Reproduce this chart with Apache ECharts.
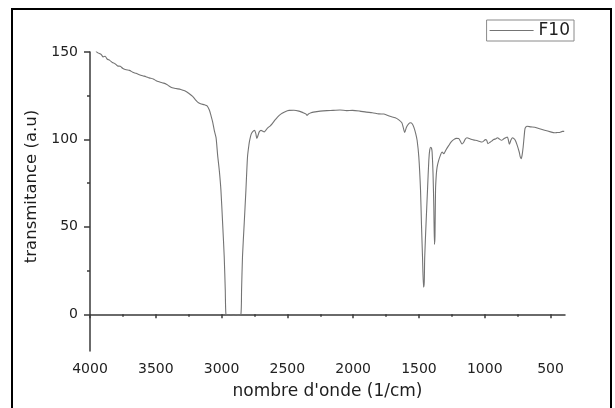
<!DOCTYPE html>
<html>
<head>
<meta charset="utf-8">
<script src="https://cdn.jsdelivr.net/npm/echarts@6/dist/echarts.min.js"></script>
<style>
  html, body { margin: 0; padding: 0; background: #fff; }
  #chart { width: 615px; height: 408px; }
</style>
</head>
<body>
<div id="chart"></div>
<script>
// FTIR spectrum of sample F10: wavenumber (cm^-1) and transmittance (a.u)
const wavenumber = [
  3955, 3940, 3915, 3900, 3885, 3870, 3850, 3830, 3810, 3790, 3770, 3750, 3725, 3700,
  3675, 3650, 3625, 3600, 3575, 3550, 3520, 3497, 3470, 3440, 3420, 3400, 3375, 3346,
  3310, 3280, 3250, 3220, 3200, 3182, 3160, 3130, 3110, 3093, 3080, 3068, 3055, 3042,
  3030, 3017, 3005, 2992, 2980, 2972, 2967, 2955, 2930, 2910, 2890, 2870, 2853, 2848,
  2841, 2828, 2815, 2803, 2792, 2785, 2775, 2765, 2750, 2740, 2732, 2722, 2714, 2700,
  2690, 2676, 2660, 2651, 2630, 2613, 2595, 2575, 2550, 2525, 2500, 2487, 2450, 2412,
  2380, 2360, 2350, 2340, 2320, 2302, 2250, 2200, 2153, 2100, 2050, 2005, 1950, 1900,
  1855, 1805, 1766, 1720, 1680, 1653, 1630, 1620, 1608, 1595, 1580, 1564, 1550, 1539,
  1525, 1514, 1501, 1488, 1481, 1473, 1465, 1460, 1456, 1446, 1435, 1425, 1418, 1410,
  1404, 1400, 1393, 1387, 1382, 1378, 1374, 1368, 1362, 1350, 1337, 1324, 1311, 1295,
  1273, 1255, 1236, 1215, 1198, 1185, 1173, 1160, 1148, 1135, 1110, 1090, 1071, 1045,
  1021, 1005, 995, 985, 976, 960, 945, 932, 915, 902, 888, 872, 855, 840,
  828, 820, 813, 800, 788, 778, 768, 755, 738, 730, 723, 716, 708, 700,
  694, 685, 679, 650, 620, 590, 545, 500, 470, 456, 430, 410, 396
];
const transmittance = [
  150.5, 149.5, 148.6, 147.2, 147.6, 146.0, 145.2, 144.0, 143.3, 142.0, 141.8, 140.6, 139.8, 139.5,
  138.4, 137.8, 137.0, 136.4, 135.9, 135.2, 134.6, 133.6, 132.9, 132.2, 131.6, 130.6, 129.6, 129.1,
  128.6, 127.8, 126.4, 124.6, 122.8, 121.3, 120.4, 119.8, 119.2, 116.8, 113.5, 110.0, 105.0, 101.0,
  91.0, 82.0, 71.0, 52.0, 33.0, 14.0, 0.0, -0.5, -0.3, -0.6, -0.2, -0.5, 0.0, 14.0,
  33.0, 52.0, 71.0, 90.0, 97.0, 100.0, 103.0, 104.3, 105.2, 103.5, 100.5, 102.5, 104.3, 105.2,
  104.8, 104.3, 105.6, 106.5, 107.8, 109.2, 111.0, 112.8, 114.5, 115.6, 116.4, 116.6, 116.7, 116.2,
  115.3, 114.6, 113.8, 114.5, 115.2, 115.6, 116.2, 116.5, 116.6, 116.8, 116.5, 116.6, 116.2, 115.6,
  115.3, 114.6, 114.5, 113.2, 112.4, 111.2, 109.5, 107.0, 104.0, 107.0, 108.8, 109.5, 108.8, 107.0,
  103.5, 99.5, 90.0, 71.0, 52.0, 33.0, 15.5, 18.0, 33.0, 52.0, 71.0, 88.0, 94.0, 95.5,
  94.8, 92.8, 80.5, 61.4, 40.0, 45.0, 71.0, 80.0, 84.2, 88.0, 90.9, 92.8, 91.9, 94.0,
  96.6, 98.6, 99.9, 100.6, 100.5, 99.0, 97.4, 98.4, 100.2, 101.0, 100.3, 99.8, 99.5, 99.0,
  98.5, 99.3, 99.9, 99.5, 97.6, 98.4, 99.2, 99.9, 100.4, 101.0, 100.2, 99.5, 100.4, 101.0,
  101.4, 99.5, 97.2, 99.8, 101.0, 100.4, 99.5, 97.0, 92.8, 90.0, 89.0, 91.0, 95.7, 102.0,
  106.2, 107.3, 107.5, 107.2, 107.0, 106.2, 105.2, 104.3, 103.8, 103.9, 104.0, 104.6, 104.6
];

const xMajorTicks = [4000, 3500, 3000, 2500, 2000, 1500, 1000, 500];
const xMinorTicks = [3750, 3250, 2750, 2250, 1750, 1250, 750];
const yMajorTicks = [0, 50, 100, 150];
const yMinorTicks = [25, 75, 125];

const seriesName = 'F10';

const spectrum = wavenumber.map((w, i) => [w, transmittance[i]]);

const axisColor = '#3a3a3a';
const fontFamily = 'DejaVu Sans';
const labelFont = { fontFamily: fontFamily, fontSize: 14, color: '#222' };
const plainNumber = v => String(v);

const chart = echarts.init(document.getElementById('chart'), null, { renderer: 'canvas' });

chart.setOption({
  backgroundColor: '#ffffff',
  animation: false,
  grid: { left: 90, right: 50, top: 52, bottom: 57, containLabel: false },
  graphic: [{
    type: 'rect',
    shape: { x: 12, y: 9, width: 599, height: 420 },
    style: { fill: 'none', stroke: '#000', lineWidth: 2 },
    silent: true,
    z: 100
  }],
  legend: {
    data: [{ name: seriesName, icon: 'rect' }],
    right: 41,
    top: 20,
    orient: 'horizontal',
    borderColor: '#8a8a8a',
    borderWidth: 1,
    borderRadius: 0,
    padding: [2, 4, 2, 3],
    itemWidth: 44,
    itemHeight: 1,
    textStyle: { fontFamily: fontFamily, fontSize: 17, color: '#1e1e1e' }
  },
  xAxis: [{
    type: 'value',
    inverse: true,
    min: 390,
    max: 4000,
    name: "nombre d'onde (1/cm)",
    nameLocation: 'middle',
    nameGap: 32,
    nameTextStyle: { fontFamily: fontFamily, fontSize: 17, color: '#1e1e1e' },
    axisLine: { show: true, lineStyle: { color: axisColor, width: 1.5 } },
    axisTick: { show: true, customValues: xMajorTicks, length: 4, inside: false, lineStyle: { color: axisColor, width: 1.5 } },
    axisLabel: Object.assign({ customValues: xMajorTicks, margin: 11, formatter: plainNumber }, labelFont),
    splitLine: { show: false }
  }, {
    type: 'value',
    inverse: true,
    position: 'bottom',
    min: 390,
    max: 4000,
    axisLine: { show: false },
    axisTick: { show: true, customValues: xMinorTicks, length: 2.5, inside: false, lineStyle: { color: axisColor, width: 1.5 } },
    axisLabel: { show: false },
    splitLine: { show: false }
  }],
  yAxis: [{
    type: 'value',
    position: 'left',
    min: -21,
    max: 150,
    name: 'transmitance (a.u)',
    nameLocation: 'middle',
    nameGap: 46,
    nameTextStyle: { fontFamily: fontFamily, fontSize: 16.5, color: '#1e1e1e', padding: [0, 0, 0, 30] },
    axisLine: { show: true, lineStyle: { color: axisColor, width: 1.5 } },
    axisTick: { show: true, customValues: yMajorTicks, length: 6, inside: false, lineStyle: { color: axisColor, width: 1.5 } },
    axisLabel: Object.assign({ customValues: yMajorTicks, margin: 12, formatter: plainNumber }, labelFont),
    splitLine: { show: false }
  }, {
    type: 'value',
    position: 'left',
    min: -21,
    max: 150,
    axisLine: { show: false },
    axisTick: { show: true, customValues: yMinorTicks, length: 3, inside: false, lineStyle: { color: axisColor, width: 1.5 } },
    axisLabel: { show: false },
    splitLine: { show: false }
  }],
  series: [{
    name: seriesName,
    type: 'line',
    xAxisIndex: 0,
    yAxisIndex: 0,
    data: spectrum,
    showSymbol: false,
    symbol: 'none',
    smooth: 0.25,
    lineStyle: { color: '#747474', width: 1.1 },
    itemStyle: { color: '#747474' }
  }]
});
</script>
</body>
</html>
